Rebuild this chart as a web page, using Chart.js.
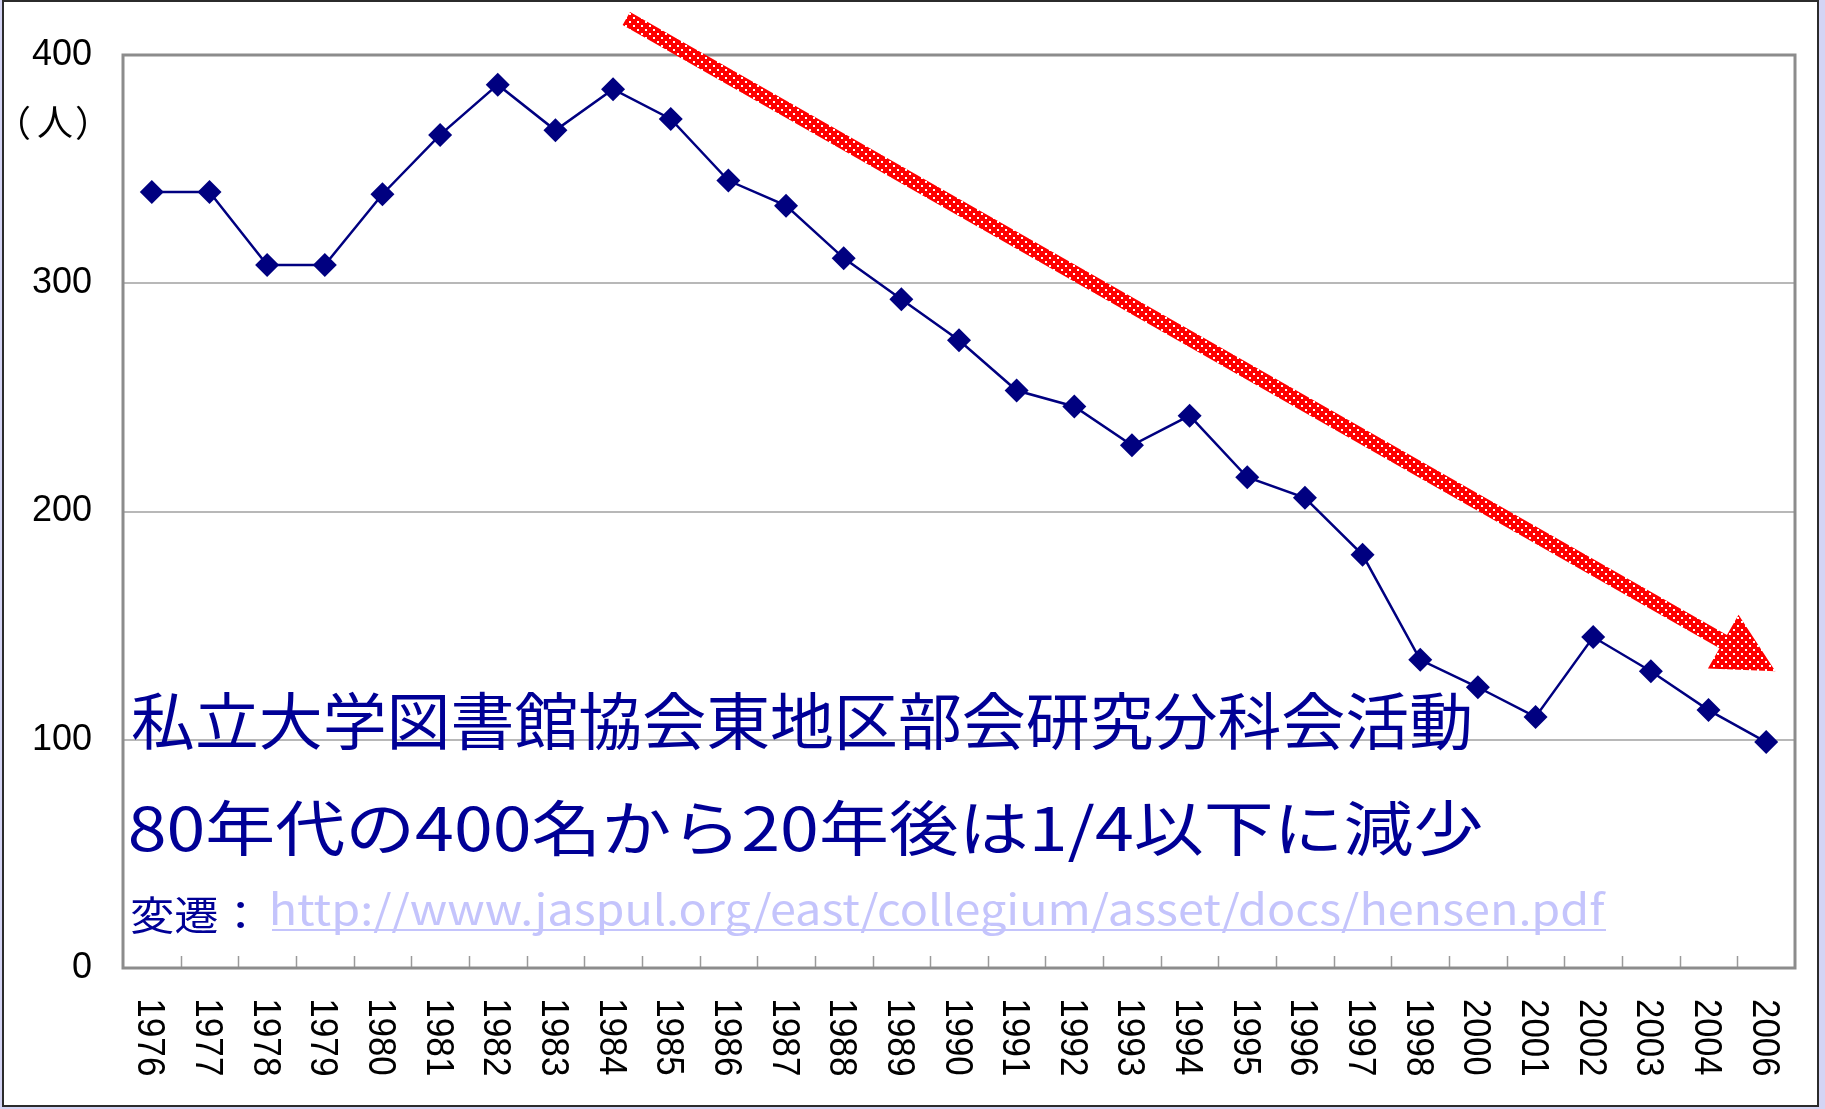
<!DOCTYPE html>
<html lang="ja">
<head>
  <meta charset="UTF-8">
  <title>私立大学図書館協会東地区部会研究分科会活動</title>
  <script src="https://cdn.jsdelivr.net/npm/chart.js"></script>
  <style>
    body { margin: 0; width: 1825px; height: 1109px; background: #d4d4f4; overflow: hidden; }
    #frame { position: absolute; left: 2px; top: 0; width: 1813px; height: 1103px; border: 2px solid #2b2b2b; background: #fff; }
    #chart { position: absolute; left: 0; top: 0; }
  </style>
</head>
<body>
  <div id="frame"></div>
  <canvas id="chart" width="1825" height="1109"></canvas>

  <script>
    // data
    const years = ['1976','1977','1978','1979','1980','1981','1982','1983','1984','1985',
                   '1986','1987','1988','1989','1990','1991','1992','1993','1994','1995',
                   '1996','1997','1998','2000','2001','2002','2003','2004','2006'];
    const members = [340, 340, 308, 308, 339, 365, 387, 367, 385, 372,
                     345, 334, 311, 293, 275, 253, 246, 229, 242, 215,
                     206, 181, 135, 123, 110, 145, 130, 113, 99];
    const yMin = 0, yMax = 400, yStep = 100;
    const unitLabel = '（人）';
    const title = '私立大学図書館協会東地区部会研究分科会活動';
    const subtitle = '80年代の400名から20年後は1/4以下に減少';
    const sourceLabel = '変遷：';
    const sourceUrl = 'http://www.jaspul.org/east/collegium/asset/docs/hensen.pdf';
    // trend arrow, in (category index, value) terms
    const arrowFrom = [8.23, 416];
    const arrowTo = [28.16, 130];

    const navy = '#000080';
    const textBlue = '#000096';

    function fitText(ctx, text, left, right, cy) {
      const m = ctx.measureText(text);
      const inkW = m.actualBoundingBoxLeft + m.actualBoundingBoxRight;
      const s = (right - left) / inkW;
      const off = (m.actualBoundingBoxAscent - m.actualBoundingBoxDescent) / 2;
      ctx.save();
      ctx.translate(left, cy);
      ctx.scale(s, 1);
      ctx.textAlign = 'left';
      ctx.textBaseline = 'alphabetic';
      ctx.fillText(text, m.actualBoundingBoxLeft, off);
      ctx.restore();
    }

    function inkAt(ctx, text, left, cy) {
      const m = ctx.measureText(text);
      const off = (m.actualBoundingBoxAscent - m.actualBoundingBoxDescent) / 2;
      ctx.textAlign = 'left';
      ctx.textBaseline = 'alphabetic';
      ctx.fillText(text, left + m.actualBoundingBoxLeft, cy + off);
    }

    function dotPattern(ctx) {
      const c = document.createElement('canvas');
      c.width = 8; c.height = 8;
      const p = c.getContext('2d');
      p.fillStyle = '#ff0000';
      p.fillRect(0, 0, 8, 8);
      p.fillStyle = '#ffffff';
      p.fillRect(1, 1, 2, 2);
      p.fillRect(5, 5, 2, 2);
      return ctx.createPattern(c, 'repeat');
    }

    const decor = {
      id: 'decor',
      beforeDatasetsDraw(chart) {
        const { ctx, chartArea: a, scales: { x } } = chart;
        ctx.save();
        // inner tick marks at category boundaries
        ctx.strokeStyle = '#9a9a9a';
        ctx.lineWidth = 1.5;
        const w = (a.right - a.left) / years.length;
        for (let i = 1; i < years.length; i++) {
          const px = Math.round(a.left + i * w) + 0.5;
          ctx.beginPath();
          ctx.moveTo(px, a.bottom);
          ctx.lineTo(px, a.bottom - 12);
          ctx.stroke();
        }
        // plot box
        ctx.strokeStyle = '#8c8c8c';
        ctx.lineWidth = 3;
        ctx.strokeRect(a.left, a.top, a.right - a.left, a.bottom - a.top);

        // rotated year labels (clockwise)
        ctx.fillStyle = '#000';
        ctx.font = '39px "Liberation Sans", Arial, sans-serif';
        years.forEach((yr, i) => {
          const m = ctx.measureText(yr);
          const inkW = m.actualBoundingBoxLeft + m.actualBoundingBoxRight;
          const off = (m.actualBoundingBoxAscent - m.actualBoundingBoxDescent) / 2;
          ctx.save();
          ctx.translate(x.getPixelForValue(i), 1000);
          ctx.rotate(Math.PI / 2);
          ctx.scale(75 / inkW, 1);
          ctx.textBaseline = 'alphabetic';
          ctx.textAlign = 'left';
          ctx.fillText(yr, m.actualBoundingBoxLeft, off);
          ctx.restore();
        });

        // unit label
        ctx.font = '36px "Noto Sans CJK JP", sans-serif';
        const parts = Array.from(unitLabel);
        inkAt(ctx, parts[0], 20, 122);
        inkAt(ctx, parts[1], 38, 122);
        inkAt(ctx, parts[2], 76, 122);
        ctx.restore();
      },
      afterDraw(chart) {
        const { ctx, scales: { x, y } } = chart;
        ctx.save();
        // annotation text
        ctx.fillStyle = textBlue;
        ctx.font = '62px "Noto Sans CJK JP", sans-serif';
        fitText(ctx, title, 132, 1470, 721);
        ctx.font = '60px "Noto Sans CJK JP", sans-serif';
        fitText(ctx, subtitle, 130, 1481, 830);
        ctx.font = '40px "Noto Sans CJK JP", sans-serif';
        fitText(ctx, sourceLabel, 131, 245, 915);
        ctx.fillStyle = '#c4c4fc';
        ctx.font = '42px "Noto Sans CJK JP", sans-serif';
        fitText(ctx, sourceUrl, 272, 1606, 913);
        ctx.fillRect(272, 929, 1334, 2);

        // trend arrow
        const sx = x.getPixelForValue(arrowFrom[0]), sy = y.getPixelForValue(arrowFrom[1]);
        const tx = x.getPixelForValue(arrowTo[0]), ty = y.getPixelForValue(arrowTo[1]);
        const len = Math.hypot(tx - sx, ty - sy);
        const ux = (tx - sx) / len, uy = (ty - sy) / len;
        const nx = -uy, ny = ux;
        const head = 60, hw = 31, sw = 7.5;
        const bx = tx - ux * head, by = ty - uy * head;
        ctx.fillStyle = dotPattern(ctx);
        ctx.beginPath();
        ctx.moveTo(sx + nx * sw, sy + ny * sw);
        ctx.lineTo(bx + nx * sw, by + ny * sw);
        ctx.lineTo(bx + nx * hw, by + ny * hw);
        ctx.lineTo(tx, ty);
        ctx.lineTo(bx - nx * hw, by - ny * hw);
        ctx.lineTo(bx - nx * sw, by - ny * sw);
        ctx.lineTo(sx - nx * sw, sy - ny * sw);
        ctx.closePath();
        ctx.fill();
        ctx.restore();
      }
    };

    new Chart(document.getElementById('chart'), {
      type: 'line',
      data: {
        labels: years,
        datasets: [{
          data: members,
          borderColor: navy,
          borderWidth: 2.5,
          backgroundColor: navy,
          pointStyle: 'rectRot',
          pointRadius: 12,
          pointBorderWidth: 0,
          tension: 0,
          clip: false
        }]
      },
      options: {
        responsive: false,
        animation: false,
        devicePixelRatio: 1,
        layout: { padding: { left: 5, top: 55, right: 30, bottom: 0 } },
        plugins: { legend: { display: false }, tooltip: { enabled: false } },
        scales: {
          x: {
            type: 'category',
            offset: true,
            grid: { display: false, drawTicks: false },
            border: { display: false },
            ticks: { display: false },
            afterFit(scale) { scale.height = 141; }
          },
          y: {
            min: yMin,
            max: yMax,
            ticks: {
              stepSize: yStep,
              padding: 31,
              color: '#000',
              font: { family: '"Liberation Sans", Arial, sans-serif', size: 36 }
            },
            grid: {
              drawTicks: false,
              lineWidth: 2,
              color: c => (c.tick && (c.tick.value === yMin || c.tick.value === yMax)) ? 'rgba(0,0,0,0)' : '#b8b8b8'
            },
            border: { display: false },
            afterFit(scale) { scale.width = 118; }
          }
        }
      },
      plugins: [decor]
    });
  </script>
</body>
</html>
